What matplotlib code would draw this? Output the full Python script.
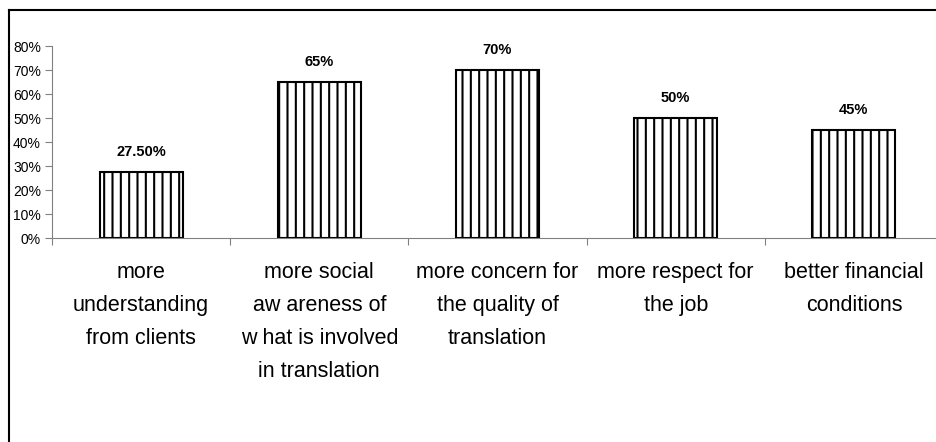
import numpy as np
import matplotlib.pyplot as plt
from matplotlib.lines import Line2D

plt.rcParams['font.family'] = ['Liberation Sans', 'DejaVu Sans']
plt.rcParams['hatch.linewidth'] = 1.5

categories = ['more\nunderstanding\nfrom clients',
              'more social\naw areness of\nw hat is involved\nin translation',
              'more concern for\nthe quality of\ntranslation',
              'more respect for\nthe job',
              'better financial\nconditions']
values = [27.5, 65, 70, 50, 45]
value_labels = ['27.50%', '65%', '70%', '50%', '45%']
yticks = [0, 10, 20, 30, 40, 50, 60, 70, 80]

W, H = 936, 442
fig = plt.figure(figsize=(W / 100, H / 100), dpi=100)
ax = fig.add_axes([52 / W, 1 - 238 / H, 891 / W, 192 / H])

x = np.arange(len(values))
bars = ax.bar(x, values, width=0.465, color='white', edgecolor='black',
              linewidth=1.5, hatch='||')

for b, lab in zip(bars, value_labels):
    ax.annotate(lab, (b.get_x() + b.get_width() / 2, b.get_height()),
                xytext=(0, 9), textcoords='offset points',
                ha='center', va='bottom', fontsize=10.5, fontweight='bold')

ax.set_xlim(-0.5, len(values) - 0.5)
ax.set_ylim(0, 80)
ax.set_yticks(yticks)
ax.set_yticklabels(['{:d}%'.format(v) for v in yticks], fontsize=10)

# boundaries get the tick marks, centres get the labels
ax.set_xticks(np.arange(len(values) + 1) - 0.5)
ax.set_xticklabels([])
ax.set_xticks(x, minor=True)
ax.set_xticklabels(categories, minor=True, fontsize=15.5, linespacing=1.75)
ax.tick_params(axis='x', which='major', length=5, color='#808080')
ax.tick_params(axis='x', which='minor', length=0, pad=17)
ax.tick_params(axis='y', length=5, color='#808080', pad=3)

for s in ['top', 'right']:
    ax.spines[s].set_visible(False)
ax.spines['left'].set_color('#808080')
ax.spines['bottom'].set_color('#808080')
ax.spines['bottom'].set_clip_on(False)

# outer chart frame (only top and left edges fall inside the picture)
fig.add_artist(Line2D([9 / W, 1], [1 - 10 / H, 1 - 10 / H],
                      transform=fig.transFigure, color='black', lw=1.5))
fig.add_artist(Line2D([9 / W, 9 / W], [0, 1 - 10 / H],
                      transform=fig.transFigure, color='black', lw=1.5))

fig.savefig('out.png', dpi=100)
